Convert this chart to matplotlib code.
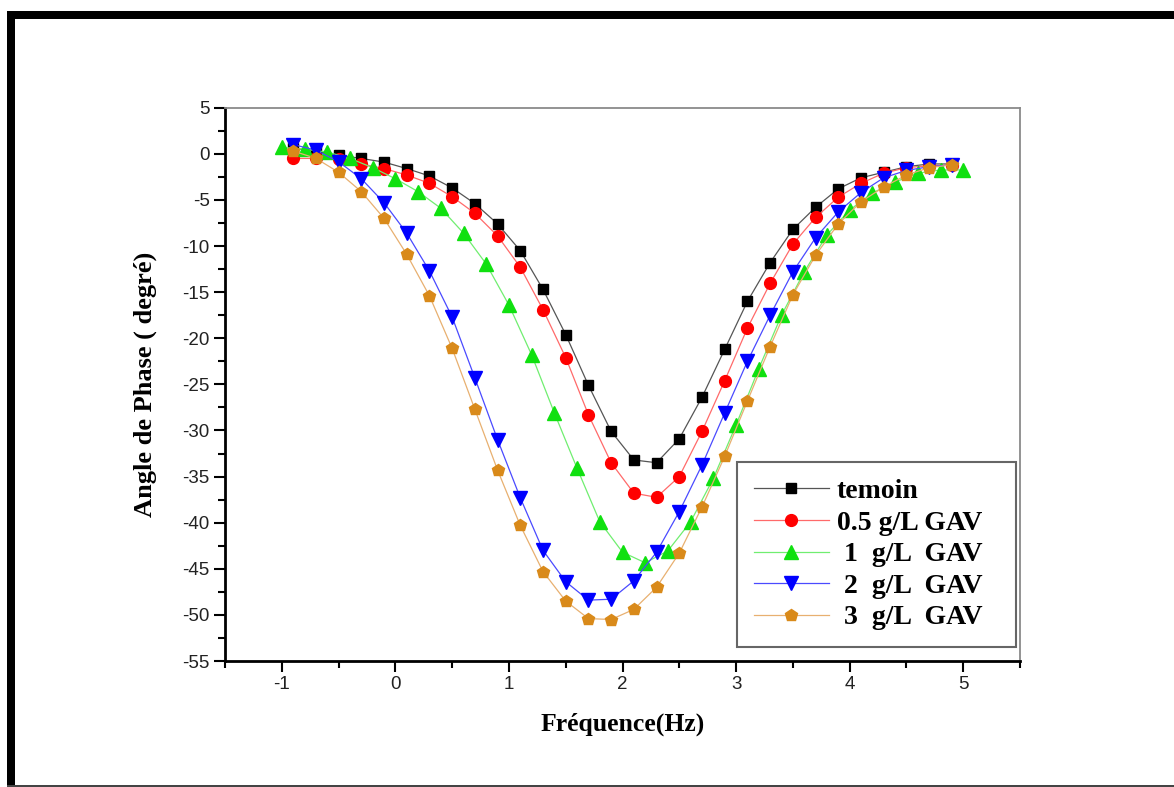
import matplotlib
matplotlib.use('Agg')
import matplotlib.pyplot as plt
from matplotlib.ticker import MultipleLocator
from matplotlib.patches import Rectangle

# ---- data ----
x_odd = [-0.9, -0.7, -0.5, -0.3, -0.1, 0.1, 0.3, 0.5, 0.7, 0.9,
         1.1, 1.3, 1.5, 1.7, 1.9, 2.1, 2.3, 2.5, 2.7, 2.9,
         3.1, 3.3, 3.5, 3.7, 3.9, 4.1, 4.3, 4.5, 4.7, 4.9]
x_even = [-1.0, -0.8, -0.6, -0.4, -0.2, 0.0, 0.2, 0.4, 0.6, 0.8,
          1.0, 1.2, 1.4, 1.6, 1.8, 2.0, 2.2, 2.4, 2.6, 2.8,
          3.0, 3.2, 3.4, 3.6, 3.8, 4.0, 4.2, 4.4, 4.6, 4.8, 5.0]

temoin = [0.6, 0.3, -0.15, -0.5, -0.9, -1.6, -2.4, -3.7, -5.4, -7.6,
          -10.5, -14.7, -19.6, -25.1, -30.1, -33.2, -33.5, -30.9, -26.4, -21.2,
          -16.0, -11.8, -8.2, -5.8, -3.8, -2.6, -2.0, -1.4, -1.1, -1.1]
gav_05 = [-0.5, -0.5, -0.6, -1.1, -1.6, -2.3, -3.2, -4.65, -6.45, -8.9,
          -12.3, -16.9, -22.1, -28.3, -33.5, -36.8, -37.25, -35.0, -30.1, -24.6,
          -18.9, -14.05, -9.8, -6.9, -4.7, -3.2, -2.1, -1.5, -1.3, -1.2]
gav_1 = [0.7, 0.5, 0.2, -0.5, -1.5, -2.7, -4.1, -5.9, -8.6, -11.95,
         -16.4, -21.8, -28.1, -34.1, -39.9, -43.2, -44.35, -43.05, -39.9, -35.2,
         -29.4, -23.3, -17.5, -12.8, -8.8, -6.1, -4.25, -3.06, -2.1, -1.75, -1.75]
gav_2 = [1.0, 0.4, -0.86, -2.7, -5.3, -8.6, -12.7, -17.7, -24.3, -31.0,
         -37.3, -43.0, -46.4, -48.4, -48.3, -46.3, -43.2, -38.8, -33.75, -28.1,
         -22.5, -17.5, -12.8, -9.1, -6.3, -4.2, -2.6, -1.8, -1.4, -1.2]
gav_3 = [0.3, -0.49, -2.0, -4.1, -7.0, -10.9, -15.4, -21.1, -27.7, -34.3,
         -40.3, -45.3, -48.5, -50.4, -50.5, -49.4, -47.0, -43.3, -38.3, -32.8,
         -26.8, -20.9, -15.3, -11.0, -7.6, -5.2, -3.6, -2.3, -1.5, -1.2]

labels = ["temoin", "0.5 g/L GAV", " 1  g/L  GAV", " 2  g/L  GAV", " 3  g/L  GAV"]
xlabel = "Fréquence(Hz)"
ylabel = "Angle de Phase ( degré)"

plt.rcParams['axes.unicode_minus'] = False

fig = plt.figure(figsize=(11.74, 7.87), dpi=100)
fig.patch.set_facecolor('white')

# outer frame
fig.add_artist(Rectangle((7/1174, 1-19/787), 1-7/1174, 8/787, transform=fig.transFigure,
                         facecolor='black', edgecolor='none'))
fig.add_artist(Rectangle((7/1174, 0), 8/1174, 1-11/787, transform=fig.transFigure,
                         facecolor='black', edgecolor='none'))
fig.add_artist(Rectangle((7/1174, 0.5/787), 1-7/1174, 2/787, transform=fig.transFigure,
                         facecolor='#444444', edgecolor='none'))

ax = fig.add_axes([225/1174, (787-661)/787, 795/1174, (661-107.7)/787])

series = [
    (x_odd, temoin, 's', '#000000', '#555555', 7.5),
    (x_odd, gav_05, 'o', '#ff0000', '#ff6a6a', 8.5),
    (x_even, gav_1, '^', '#10e010', '#70ee70', 9.5),
    (x_odd, gav_2, 'v', '#0000ff', '#4a4aff', 9.5),
    (x_odd, gav_3, 'p', '#d98a1a', '#e8b070', 9),
]
for (xs, ys, mk, mc, lc, ms), lab in zip(series, labels):
    ax.plot(xs, ys, color=lc, lw=0.9, marker=mk, ms=ms, mfc=mc, mec=mc,
            label=lab)

ax.set_xlim(-1.5, 5.5)
ax.set_ylim(-55, 5)
ax.xaxis.set_major_locator(MultipleLocator(1))
ax.xaxis.set_minor_locator(MultipleLocator(0.5))
ax.yaxis.set_major_locator(MultipleLocator(5))
ax.yaxis.set_minor_locator(MultipleLocator(2.5))

for side in ['left', 'bottom']:
    ax.spines[side].set_linewidth(2)
    ax.spines[side].set_color('black')
for side in ['top', 'right']:
    ax.spines[side].set_linewidth(1.3)
    ax.spines[side].set_color('#8a8a8a')

ax.tick_params(which='major', direction='out', length=8, width=1.5, color='black',
               labelsize=13.5, pad=3, top=False, right=False)
ax.tick_params(which='minor', direction='out', length=5, width=1.5, color='black',
               top=False, right=False)
for lab in ax.get_xticklabels() + ax.get_yticklabels():
    lab.set_fontfamily('Liberation Sans')
    lab.set_color('#222222')

ax.set_xlabel(xlabel, family='Liberation Serif', weight='bold', fontsize=18.5, labelpad=14)
ax.set_ylabel(ylabel, family='Liberation Serif', weight='bold', fontsize=19, labelpad=18)

leg = ax.legend(loc='lower left', bbox_to_anchor=(0.644, 0.0253, 0.351, 0.338),
                mode='expand', borderaxespad=0,
                prop={'family': 'Liberation Serif', 'weight': 'bold', 'size': 20},
                fancybox=False, edgecolor='#666666', framealpha=1,
                handlelength=2.7, handletextpad=0.3, labelspacing=0.22,
                borderpad=0.6, numpoints=1)
leg.get_frame().set_linewidth(1.5)

fig.savefig('out.png', dpi=100, facecolor='white')
